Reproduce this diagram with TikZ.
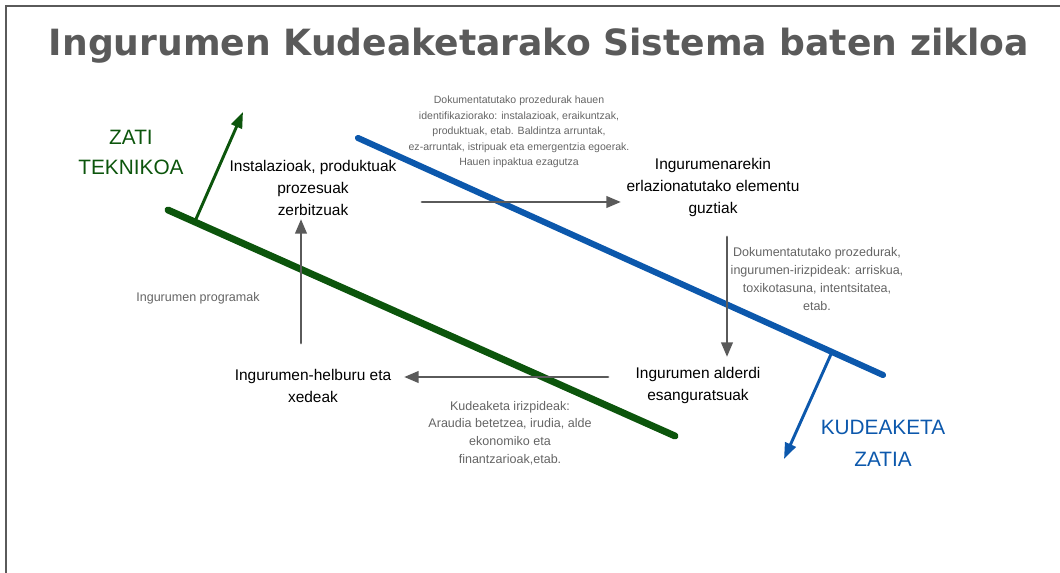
\documentclass[tikz,border=0pt]{standalone}
\usepackage{fontspec}
\setmainfont{Liberation Sans}
\newfontfamily\titlefont{DejaVu Sans}
\usepackage{tikz}
\usetikzlibrary{arrows.meta}
\usetikzlibrary{positioning}
\usepackage{xcolor}
\definecolor{framegray}{RGB}{90,90,90}
\definecolor{notegray}{RGB}{100,100,100}
\definecolor{tekgreen}{RGB}{12,85,12}
\definecolor{kudblue}{RGB}{12,88,172}

\begin{document}
\begin{tikzpicture}[x=0.75pt, y=-0.75pt, >={Triangle[length=11pt,width=8.5pt]}, line cap=round]
\tikzstyle{every node} = [inner sep=0pt, align=center]
\tikzstyle{stage} = [text=black, font=\fontsize{11.6}{16.5}\selectfont]
\tikzstyle{note} = [text=notegray, font=\fontsize{9.4}{13.3}\selectfont]
\tikzstyle{smallnote} = [text=notegray, font=\fontsize{7.9}{11.6}\selectfont]
\tikzstyle{flow} = [->, draw=framegray, line width=2.2pt]
\tikzstyle{zati} = [font=\fontsize{15.6}{22.5}\selectfont]

\useasboundingbox (0,0) rectangle (1060,573);
\draw[framegray, line width=2.2pt, line cap=butt] (6,573) -- (6,6) -- (1060,6);

\node[text=framegray, font=\titlefont\bfseries\fontsize{27.1}{32}\selectfont] (title) at (539,46) {Ingurumen Kudeaketarako Sistema baten zikloa};

\node[stage] (inst) at (313,188) {Instalazioak, produktuak\\prozesuak\\zerbitzuak};
\node[stage] (elem) at (713,188) {Ingurumenarekin\\erlazionatutako elementu\\guztiak};
\node[stage] (alder) at (698,386) {Ingurumen alderdi\\esanguratsuak};
\node[stage] (helb) at (313,386) {Ingurumen-helburu eta\\xedeak};

\node[smallnote] (identif) at (519,132) {Dokumentatutako prozedurak hauen\\identifikaziorako: instalazioak, eraikuntzak,\\produktuak, etab. Baldintza arruntak,\\ez-arruntak, istripuak eta emergentzia egoerak.\\Hauen inpaktua ezagutza};
\node[note] (irizp) at (817,279) {Dokumentatutako prozedurak,\\ingurumen-irizpideak: arriskua,\\toxikotasuna, intentsitatea,\\etab.};
\node[note] (kudiriz) at (510,433) {Kudeaketa irizpideak:\\Araudia betetzea, irudia, alde\\ekonomiko eta\\finantzarioak,etab.};
\node[note] (progr) at (198,298) {Ingurumen programak};

\node[zati, text=tekgreen] (teknik) at (131,152) {ZATI\\TEKNIKOA};
\node[zati, text=kudblue, font=\fontsize{15.6}{24}\selectfont] (kudzat) at (883,443) {KUDEAKETA\\ZATIA};

% lerro lodiak
\coordinate (tekA) at (168,210);
\coordinate (tekB) at (675,436);
\coordinate (tekC) at (196,219);
\coordinate (tekD) at (243,112);
\coordinate (kudA) at (358,138);
\coordinate (kudB) at (883,375);
\coordinate (kudC) at (832,352);
\coordinate (kudD) at (784,459);

\draw[tekgreen, line width=5.2pt] (tekA) -- (tekB);
\draw[->, >={Triangle[length=12pt,width=8.5pt]}, tekgreen, line width=2.2pt] (tekC) -- (tekD);
\draw[kudblue, line width=4.6pt] (kudA) -- (kudB);
\draw[->, >={Triangle[length=12pt,width=8.5pt]}, kudblue, line width=2.2pt] (kudC) -- (kudD);

% ziklo geziak
\coordinate (f1a) at (422,202);
\coordinate (f1b) at (621,202);
\coordinate (f2a) at (727,237);
\coordinate (f2b) at (727,357);
\coordinate (f3a) at (608,377);
\coordinate (f3b) at (404,377);
\coordinate (f4a) at (301,343);
\coordinate (f4b) at (301,219);

\path (f1a) edge[flow] (f1b)
	(f2a) edge[flow] (f2b)
	(f3a) edge[flow] (f3b)
	(f4a) edge[flow] (f4b)
	;

\end{tikzpicture}
\end{document}
